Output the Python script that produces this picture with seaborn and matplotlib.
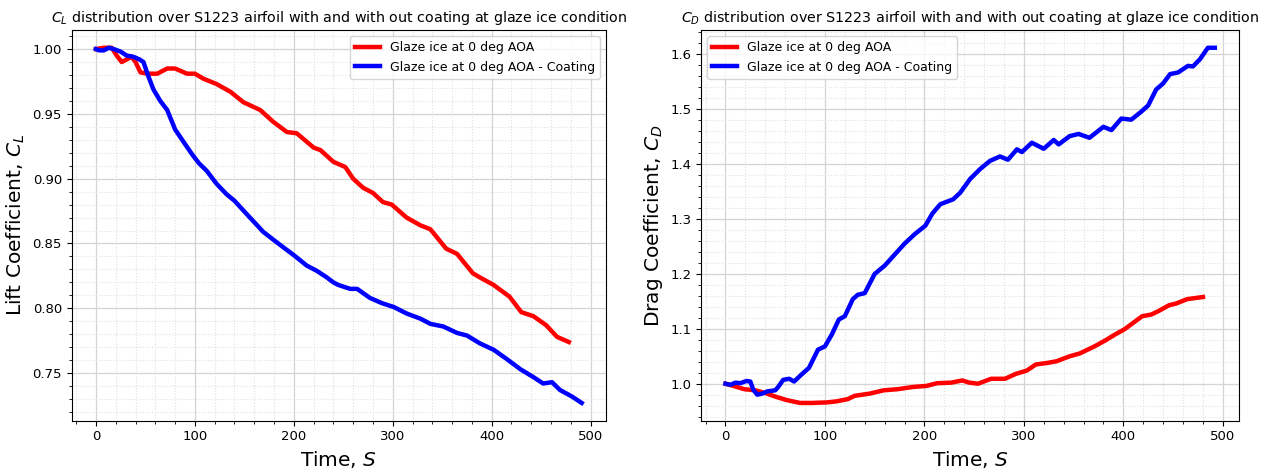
import pandas as pd
import matplotlib
matplotlib.use("Agg")
import matplotlib.pyplot as plt
import seaborn as sns

# Lift coefficient, no coating
cl_t = [0, 8, 16, 21, 26, 31, 36, 40, 45, 52, 62, 72, 80, 92, 100, 109, 122, 136,
        149, 166, 179, 193, 203, 220, 227, 240, 252, 260, 270, 280, 290, 299, 314,
        328, 338, 354, 365, 381, 390, 402, 418, 430, 442, 455, 466, 478]
cl_v = [1.000, 1.001, 1.001, 0.995, 0.990, 0.992, 0.994, 0.990, 0.982, 0.981, 0.981,
        0.985, 0.985, 0.981, 0.981, 0.977, 0.973, 0.967, 0.959, 0.953, 0.944, 0.936,
        0.935, 0.924, 0.922, 0.913, 0.909, 0.900, 0.893, 0.889, 0.882, 0.880, 0.870,
        0.864, 0.861, 0.846, 0.842, 0.827, 0.823, 0.818, 0.809, 0.797, 0.794, 0.787,
        0.778, 0.774]

# Lift coefficient, coating
clc_t = [0, 3, 8, 13, 18, 25, 31, 38, 44, 48, 53, 58, 65, 72, 80, 88, 97, 104, 112,
         122, 132, 140, 152, 163, 169, 186, 200, 213, 223, 233, 240, 245, 257, 264,
         277, 289, 301, 314, 328, 338, 351, 365, 375, 388, 402, 415, 429, 442, 452,
         461, 469, 481, 491]
clc_v = [1.000, 0.999, 0.999, 1.001, 1.000, 0.998, 0.995, 0.994, 0.992, 0.990, 0.979,
         0.969, 0.960, 0.953, 0.938, 0.929, 0.919, 0.912, 0.906, 0.896, 0.888, 0.883,
         0.873, 0.864, 0.859, 0.849, 0.841, 0.833, 0.829, 0.824, 0.820, 0.818, 0.815,
         0.815, 0.808, 0.804, 0.801, 0.796, 0.792, 0.788, 0.786, 0.781, 0.779, 0.773,
         0.768, 0.761, 0.753, 0.747, 0.742, 0.743, 0.737, 0.732, 0.727]

# Drag coefficient, no coating
cd_t = [0, 8, 19, 30, 40, 51, 62, 75, 87, 102, 112, 123, 130, 145, 159, 173, 188,
        202, 213, 227, 238, 245, 254, 267, 281, 292, 303, 312, 324, 333, 346, 356,
        371, 382, 392, 401, 410, 419, 428, 435, 446, 453, 464, 472, 480]
cd_v = [1.000, 0.996, 0.990, 0.988, 0.983, 0.976, 0.970, 0.965, 0.965, 0.966, 0.968,
        0.972, 0.978, 0.982, 0.988, 0.990, 0.994, 0.996, 1.001, 1.002, 1.006, 1.002,
        1.000, 1.009, 1.009, 1.018, 1.024, 1.035, 1.038, 1.041, 1.050, 1.055, 1.068,
        1.079, 1.090, 1.099, 1.111, 1.123, 1.126, 1.132, 1.143, 1.146, 1.154, 1.156,
        1.158]

# Drag coefficient, coating
cdc_t = [0, 5, 10, 15, 21, 25, 28, 32, 37, 42, 50, 53, 58, 64, 69, 76, 84, 93, 100,
         107, 114, 120, 128, 133, 140, 150, 160, 170, 180, 190, 201, 208, 216, 229,
         236, 246, 256, 266, 276, 284, 293, 298, 308, 320, 330, 335, 346, 355, 366,
         380, 388, 398, 408, 417, 425, 433, 440, 447, 455, 465, 470, 477, 485, 492]
cdc_v = [1.000, 0.998, 1.002, 1.001, 1.005, 1.004, 0.989, 0.980, 0.982, 0.986, 0.988,
         0.994, 1.007, 1.009, 1.004, 1.016, 1.029, 1.062, 1.068, 1.090, 1.117, 1.123,
         1.154, 1.162, 1.165, 1.200, 1.215, 1.235, 1.255, 1.272, 1.288, 1.310, 1.327,
         1.336, 1.348, 1.373, 1.391, 1.406, 1.414, 1.408, 1.427, 1.422, 1.439, 1.428,
         1.444, 1.436, 1.451, 1.455, 1.448, 1.468, 1.462, 1.483, 1.481, 1.494, 1.507,
         1.536, 1.547, 1.564, 1.567, 1.579, 1.578, 1.591, 1.612, 1.612]

lab1 = "Glaze ice at 0 deg AOA"
lab2 = "Glaze ice at 0 deg AOA - Coating"

plt.rcParams["font.family"] = ["DejaVu Sans"]

fig = plt.figure(figsize=(12.75, 4.71), dpi=100)
ax1 = fig.add_axes([0.0562, 0.1068, 0.4191, 0.8295])
ax2 = fig.add_axes([0.5498, 0.1068, 0.4222, 0.8295])


def style(ax):
    ax.minorticks_on()
    ax.grid(which="major", color="#d4d4d4", linewidth=0.9)
    ax.grid(which="minor", color="#e0e0e0", linestyle=":", linewidth=0.8)
    ax.set_axisbelow(True)
    ax.tick_params(labelsize=9.5)


# 1 Lift coefficient
sns.lineplot(x=cl_t, y=cl_v, ax=ax1, color="red", linewidth=3.2, label=lab1)
sns.lineplot(x=clc_t, y=clc_v, ax=ax1, color="blue", linewidth=3.2, label=lab2)
ax1.set_title("$C_L$ distribution over S1223 airfoil with and with out coating at glaze ice condition",
              fontsize=10.3)
ax1.set_xlabel("Time, $S$", fontsize=14.5)
ax1.set_ylabel("Lift Coefficient, $C_L$", fontsize=14.5)
ax1.legend(loc="upper right", fontsize=9)
style(ax1)

# 2 Drag coefficient
sns.lineplot(x=cd_t, y=cd_v, ax=ax2, color="red", linewidth=3.2, label=lab1)
sns.lineplot(x=cdc_t, y=cdc_v, ax=ax2, color="blue", linewidth=3.2, label=lab2)
ax2.set_title("$C_D$ distribution over S1223 airfoil with and with out coating at glaze ice condition",
              fontsize=10.3)
ax2.set_xlabel("Time, $S$", fontsize=14.5)
ax2.set_ylabel("Drag Coefficient, $C_D$", fontsize=14.5)
ax2.legend(loc="upper left", fontsize=9)
style(ax2)

fig.savefig("out.png", dpi=100)
